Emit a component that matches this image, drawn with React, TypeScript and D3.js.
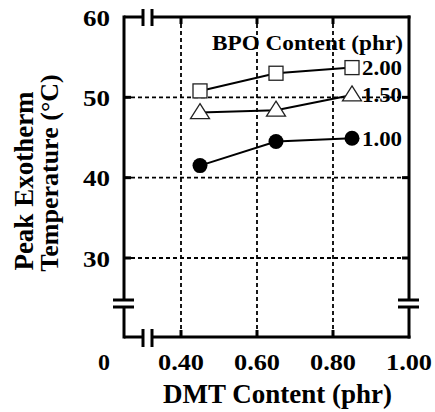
import * as d3 from 'd3'

const W = 435
const H = 412

// DMT content (phr) on the x axis
const dmt = [0.45, 0.65, 0.85]
// peak exotherm temperature (°C) per BPO content
const bpoLevels = ['2.00', '1.50', '1.00']
const bpo200 = [50.8, 53.0, 53.7]
const bpo150 = [48.1, 48.4, 50.3]
const bpo100 = [41.5, 44.5, 44.9]
const markers = ['square', 'triangle', 'circle']

const xTicks = [0.4, 0.6, 0.8, 1.0]
const yTicks = [30, 40, 50, 60]

const FRAME = { left: 124, right: 409, top: 17, bottom: 337 }
const FONT = '"Liberation Serif", "Times New Roman", serif'

const x = d3.scaleLinear().domain([0.4, 1.0]).range([181, FRAME.right])
const y = d3.scaleLinear().domain([30, 60]).range([258, FRAME.top])

function Marker({ kind, cx, cy }: { kind: string; cx: number; cy: number }) {
  if (kind === 'circle') {
    return <circle cx={cx} cy={cy} r={7.5} fill="#000" />
  }
  if (kind === 'square') {
    return (
      <rect x={cx - 7} y={cy - 7} width={14} height={14} fill="#fff" stroke="#222" strokeWidth={1.3} />
    )
  }
  const tri = `M${cx},${cy - 9}L${cx + 9.5},${cy + 6}L${cx - 9.5},${cy + 6}Z`
  return <path d={tri} fill="#fff" stroke="#222" strokeWidth={1.3} />
}

export default function App() {
  const series = [bpo200, bpo150, bpo100]
  const line = d3
    .line<number>()
    .x((_, i) => x(dmt[i]))
    .y((v) => y(v))

  const breakY = [300, 307]
  const breakX = [143, 152]
  const axisW = 3

  return (
    <svg
      width={W}
      height={H}
      style={{ position: 'absolute', left: 0, top: 0, background: '#fff' }}
      fontFamily={FONT}
      fontWeight="bold"
    >
      {/* grid */}
      {xTicks.slice(0, 3).map((t) => (
        <line key={'gx' + t} x1={x(t)} x2={x(t)} y1={FRAME.top} y2={FRAME.bottom}
          stroke="#000" strokeWidth={1.8} strokeDasharray="4 3" />
      ))}
      {yTicks.slice(0, 3).map((t) => (
        <line key={'gy' + t} x1={FRAME.left} x2={FRAME.right} y1={y(t)} y2={y(t)}
          stroke="#000" strokeWidth={1.8} strokeDasharray="4 3" />
      ))}

      {/* frame with breaks */}
      <g stroke="#000" strokeWidth={axisW} fill="none">
        <line x1={FRAME.left} x2={breakX[0]} y1={FRAME.top} y2={FRAME.top} />
        <line x1={breakX[1]} x2={FRAME.right + 1.5} y1={FRAME.top} y2={FRAME.top} />
        <line x1={FRAME.left} x2={breakX[0]} y1={FRAME.bottom} y2={FRAME.bottom} />
        <line x1={breakX[1]} x2={FRAME.right + 1.5} y1={FRAME.bottom} y2={FRAME.bottom} />
        <line x1={FRAME.left} x2={FRAME.left} y1={FRAME.top - 1.5} y2={breakY[0]} />
        <line x1={FRAME.left} x2={FRAME.left} y1={breakY[1]} y2={FRAME.bottom + 1.5} />
        <line x1={FRAME.right} x2={FRAME.right} y1={FRAME.top - 1.5} y2={breakY[0]} />
        <line x1={FRAME.right} x2={FRAME.right} y1={breakY[1]} y2={FRAME.bottom + 1.5} />
        {breakY.map((b) => (
          <g key={'by' + b}>
            <line x1={FRAME.left - 11} x2={FRAME.left + 10} y1={b} y2={b} />
            <line x1={FRAME.right - 11} x2={FRAME.right + 10} y1={b} y2={b} />
          </g>
        ))}
        {breakX.map((b) => (
          <g key={'bx' + b}>
            <line x1={b} x2={b} y1={FRAME.top - 8} y2={FRAME.top + 9} />
            <line x1={b} x2={b} y1={FRAME.bottom - 8} y2={FRAME.bottom + 10} />
          </g>
        ))}
        {/* inward ticks */}
        {xTicks.slice(0, 3).map((t) => (
          <g key={'tx' + t}>
            <line x1={x(t)} x2={x(t)} y1={FRAME.top} y2={FRAME.top + 7} />
            <line x1={x(t)} x2={x(t)} y1={FRAME.bottom} y2={FRAME.bottom - 7} />
          </g>
        ))}
        {yTicks.slice(0, 3).map((t) => (
          <g key={'ty' + t}>
            <line x1={FRAME.left} x2={FRAME.left + 7} y1={y(t)} y2={y(t)} />
            <line x1={FRAME.right} x2={FRAME.right - 7} y1={y(t)} y2={y(t)} />
          </g>
        ))}
      </g>

      {/* series */}
      {series.map((s, si) => (
        <g key={'s' + si}>
          <path d={line(s) ?? ''} fill="none" stroke="#000" strokeWidth={2} />
          {s.map((v, i) => (
            <Marker key={i} kind={markers[si]} cx={x(dmt[i])} cy={y(v)} />
          ))}
          <text x={x(dmt[2]) + 10} y={y(s[2]) + 7.5} fontSize={21}
            textLength={40} lengthAdjust="spacingAndGlyphs">
            {bpoLevels[si]}
          </text>
        </g>
      ))}
      <text x={212} y={50} fontSize={20} textLength={191} lengthAdjust="spacingAndGlyphs">
        BPO Content (phr)
      </text>

      {/* tick labels */}
      {yTicks.map((t) => (
        <text key={'ly' + t} x={110} y={y(t) + 8.5} fontSize={24} textAnchor="end"
          textLength={27} lengthAdjust="spacingAndGlyphs">
          {t}
        </text>
      ))}
      {xTicks.map((t) => (
        <text key={'lx' + t} x={x(t)} y={370} fontSize={24} textAnchor="middle"
          textLength={46} lengthAdjust="spacingAndGlyphs">
          {t.toFixed(2)}
        </text>
      ))}
      <text x={104} y={370} fontSize={24} textAnchor="middle">0</text>

      {/* axis titles */}
      <text x={163} y={403} fontSize={27} textLength={229} lengthAdjust="spacingAndGlyphs">
        DMT Content (phr)
      </text>
      <text transform="translate(33,181) rotate(-90)" fontSize={27} textAnchor="middle">
        Peak Exotherm
      </text>
      <text transform="translate(58,173) rotate(-90)" fontSize={26} textAnchor="middle">
        Temperature (°C)
      </text>
    </svg>
  )
}
